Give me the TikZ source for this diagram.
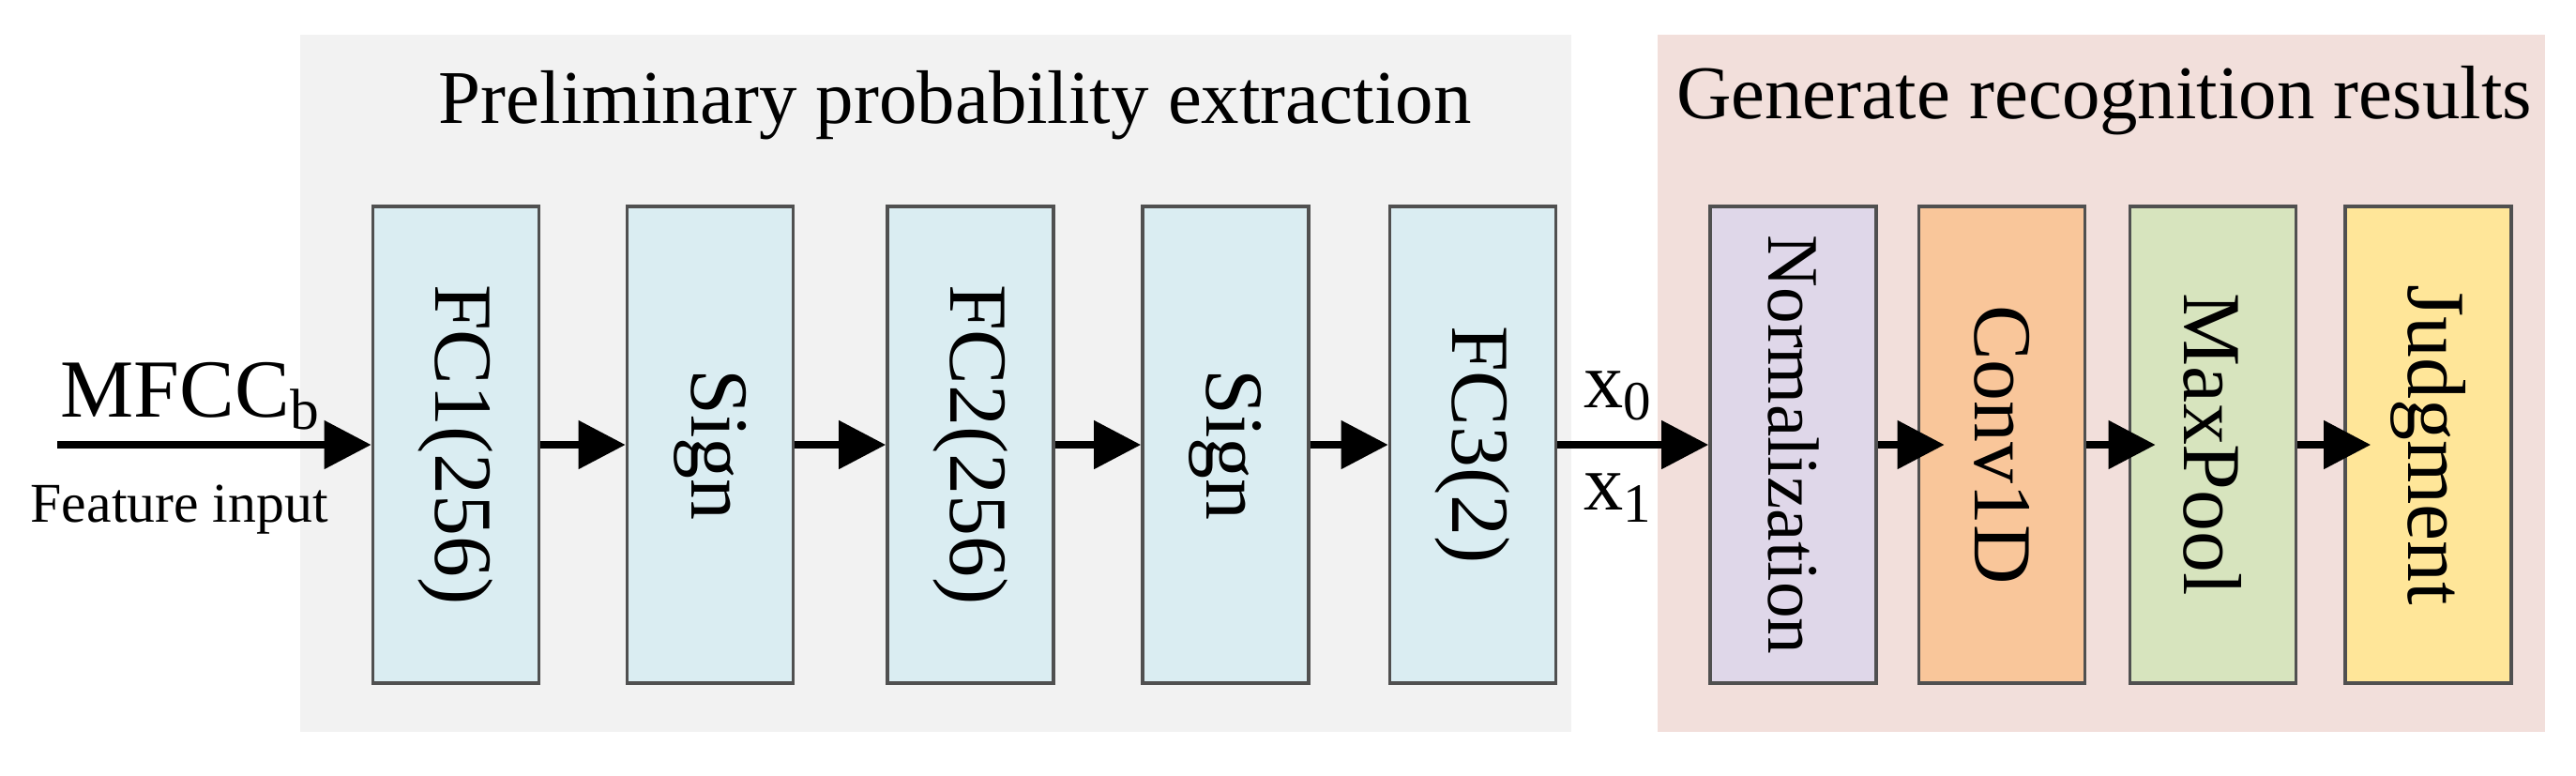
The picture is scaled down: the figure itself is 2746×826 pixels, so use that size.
\documentclass[tikz,border=0pt]{standalone}
\usepackage{fontspec}
\setmainfont{Liberation Serif}
\usepackage{graphicx}
\usetikzlibrary{arrows.meta}
\definecolor{graybg}{HTML}{F2F2F2}
\definecolor{pinkbg}{HTML}{F2DFDB}
\definecolor{bluefill}{HTML}{DAEDF2}
\definecolor{lavfill}{HTML}{DFD7E9}
\definecolor{orangefill}{HTML}{F9C69A}
\definecolor{greenfill}{HTML}{D7E4BE}
\definecolor{yellowfill}{HTML}{FFE699}
\definecolor{edgegray}{HTML}{505050}
\tikzset{
  layer/.style={draw=edgegray, line width=1pt, minimum width=1.77cm, minimum height=5.08cm, inner sep=0pt, font=\fontsize{25}{30}\selectfont},
  bgbox/.style={inner sep=0pt, draw=none},
  ttl/.style={font=\fontsize{23}{28}\selectfont, inner sep=0pt, anchor=base},
  flow/.style={line width=0.08cm, -{Triangle[length=0.5cm,width=0.5cm]}},
  overlap/.style={shorten >=-0.29cm},
  lbl/.style={inner sep=0pt}
}
\begin{document}
\begin{tikzpicture}[x=0.01cm,y=-0.01cm]
\useasboundingbox (0,0) rectangle (2746,826);
% backgrounds
\node[bgbox, fill=graybg, minimum width=13.55cm, minimum height=7.43cm] (grp1) at (997.5,408.5) {};
\node[bgbox, fill=pinkbg, minimum width=9.46cm, minimum height=7.43cm] (grp2) at (2240,408.5) {};
% titles
\node[ttl] (t1) at (1018,131) {Preliminary probability extraction};
\node[ttl] (t2) at (2243,126) {Generate recognition results};
% layers
\node[layer, fill=bluefill] (fc1) at (486,474) {\rotatebox{-90}{FC1(256)}};
\node[layer, fill=bluefill] (sg1) at (757,474) {\rotatebox{-90}{Sign}};
\node[layer, fill=bluefill] (fc2) at (1034.5,474) {\rotatebox{-90}{FC2(256)}};
\node[layer, fill=bluefill] (sg2) at (1306.5,474) {\rotatebox{-90}{Sign}};
\node[layer, fill=bluefill] (fc3) at (1570,474) {\rotatebox{-90}{FC3(2)}};
\node[layer, fill=lavfill, font=\fontsize{22}{26}\selectfont] (nrm) at (1911.5,474) {\rotatebox{-90}{Normalization}};
\node[layer, fill=orangefill] (cnv) at (2134,474) {\rotatebox{-90}{Conv1D}};
\node[layer, fill=greenfill] (mxp) at (2359,474) {\rotatebox{-90}{MaxPool}};
\node[layer, fill=yellowfill] (jdg) at (2588.5,474) {\rotatebox{-90}{Judgment}};
% input
\coordinate (in) at (61,474);
\node[lbl, anchor=base west, font=\fontsize{25}{30}\selectfont] (mfcc) at (64,444) {MFCC\textsubscript{b}};
\node[lbl, anchor=base west, font=\fontsize{17}{20}\selectfont] (feat) at (32,556) {Feature input};
\node[lbl, anchor=base west, font=\fontsize{24}{28}\selectfont] (x0) at (1688,434) {x\textsubscript{0}};
\node[lbl, anchor=base west, font=\fontsize{24}{28}\selectfont] (x1) at (1688,543) {x\textsubscript{1}};
% connectors
\draw[flow] (in) -- (fc1.west);
\draw[flow] (fc1.east) -- (sg1.west);
\draw[flow] (sg1.east) -- (fc2.west);
\draw[flow] (fc2.east) -- (sg2.west);
\draw[flow] (sg2.east) -- (fc3.west);
\draw[flow] (fc3.east) -- (nrm.west);
\draw[flow, overlap] (nrm.east) -- (cnv.west);
\draw[flow, overlap] (cnv.east) -- (mxp.west);
\draw[flow, overlap] (mxp.east) -- (jdg.west);
\end{tikzpicture}
\end{document}
